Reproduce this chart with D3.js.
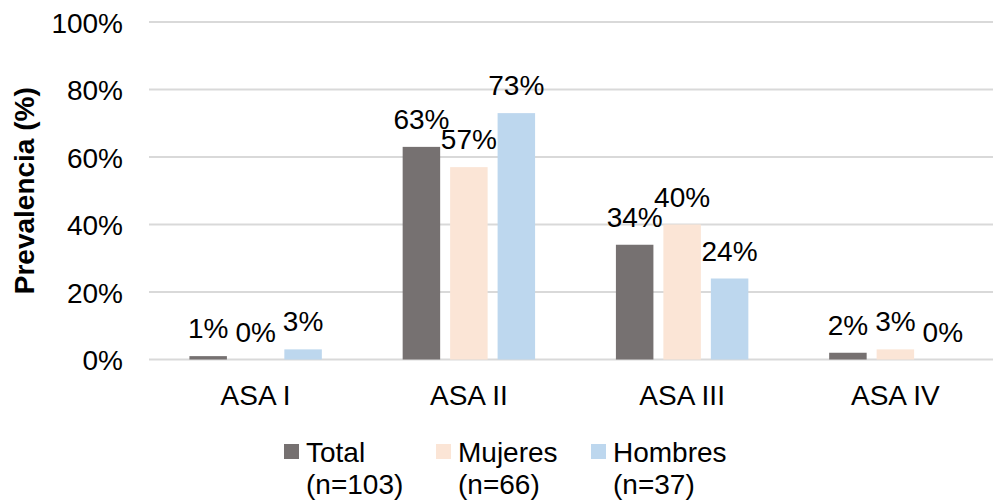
<!DOCTYPE html>
<html>
<head>
<meta charset="utf-8">
<script src="https://cdn.jsdelivr.net/npm/d3@7"></script>
<style>
  html, body { margin: 0; padding: 0; background: #fff; }
  svg { display: block; font-family: "Liberation Sans", Arial, sans-serif; }
</style>
</head>
<body>
<svg id="chart" width="993" height="502"></svg>
<script>
// Prevalence by ASA class, split by group
const categories = ["ASA I", "ASA II", "ASA III", "ASA IV"];
const seriesNames = ["Total", "Mujeres", "Hombres"];
const seriesSubtitles = ["(n=103)", "(n=66)", "(n=37)"];
const totalValues = [1, 63, 34, 2];
const mujeresValues = [0, 57, 40, 3];
const hombresValues = [3, 73, 24, 0];
const yTicks = [0, 20, 40, 60, 80, 100];
const colors = ["#767171", "#FBE5D6", "#BDD7EE"];

const seriesValues = [totalValues, mujeresValues, hombresValues];

const svg = d3.select("#chart");
const fontSize = 28;

const x0 = d3.scaleBand()
  .domain(categories)
  .range([149, 1002])
  .paddingInner(0.379)
  .paddingOuter(0.1895);

const x1 = d3.scaleBand()
  .domain(seriesNames)
  .range([0, x0.bandwidth()])
  .paddingInner(0.21)
  .paddingOuter(0);

const y = d3.scaleLinear().domain([0, 100]).range([359.5, 22]);

// Horizontal gridlines
svg.append("g")
  .selectAll("line")
  .data(yTicks)
  .join("line")
  .attr("x1", 149)
  .attr("x2", 1002)
  .attr("y1", d => y(d))
  .attr("y2", d => y(d))
  .attr("stroke", "#D9D9D9")
  .attr("stroke-width", 2);

// Y axis tick labels
const yAxis = d3.axisLeft(y).tickValues(yTicks).tickFormat(d => d + "%").tickSize(0).tickPadding(0);
const yAxisG = svg.append("g").attr("transform", "translate(123,0)").call(yAxis);
yAxisG.select(".domain").remove();
yAxisG.selectAll("text")
  .attr("font-size", fontSize)
  .attr("font-family", "Liberation Sans, Arial, sans-serif")
  .attr("fill", "#000")
  .attr("dy", "0.36em");

// Y axis title
svg.append("text")
  .attr("transform", `translate(34,${(y(0) + y(100)) / 2}) rotate(-90)`)
  .attr("text-anchor", "middle")
  .attr("font-size", fontSize)
  .attr("font-weight", "bold")
  .attr("fill", "#000")
  .text("Prevalencia (%)");

// X axis category labels
const xAxis = d3.axisBottom(x0).tickSize(0).tickPadding(0);
const xAxisG = svg.append("g").attr("transform", "translate(0,385)").call(xAxis);
xAxisG.select(".domain").remove();
xAxisG.selectAll("text")
  .attr("font-size", fontSize)
  .attr("font-family", "Liberation Sans, Arial, sans-serif")
  .attr("fill", "#000")
  .attr("dy", "0.72em");

// Bars and value labels
const rows = categories.map((c, i) => ({
  category: c,
  values: seriesNames.map((s, j) => ({ series: s, value: seriesValues[j][i], color: colors[j] }))
}));

const groups = svg.append("g")
  .selectAll("g")
  .data(rows)
  .join("g")
  .attr("transform", d => `translate(${x0(d.category)},0)`);

groups.selectAll("rect")
  .data(d => d.values)
  .join("rect")
  .attr("x", d => x1(d.series))
  .attr("width", x1.bandwidth())
  .attr("y", d => y(d.value))
  .attr("height", d => y(0) - y(d.value))
  .attr("fill", d => d.color);

groups.selectAll("text")
  .data(d => d.values)
  .join("text")
  .attr("x", d => x1(d.series) + x1.bandwidth() / 2)
  .attr("y", d => y(d.value) - 18)
  .attr("text-anchor", "middle")
  .attr("font-size", fontSize)
  .attr("fill", "#000")
  .text(d => d.value + "%");

// Legend
const legendX = [284, 436, 591];
const legend = svg.append("g")
  .selectAll("g")
  .data(seriesNames)
  .join("g")
  .attr("transform", (d, i) => `translate(${legendX[i]},0)`);

legend.append("rect")
  .attr("x", 0)
  .attr("y", 444)
  .attr("width", 15)
  .attr("height", 15)
  .attr("fill", (d, i) => colors[i]);

legend.append("text")
  .attr("x", 22)
  .attr("y", 462)
  .attr("font-size", fontSize)
  .attr("fill", "#000")
  .text(d => d);

legend.append("text")
  .attr("x", 22)
  .attr("y", 494)
  .attr("font-size", fontSize)
  .attr("fill", "#000")
  .text((d, i) => seriesSubtitles[i]);
</script>
</body>
</html>
